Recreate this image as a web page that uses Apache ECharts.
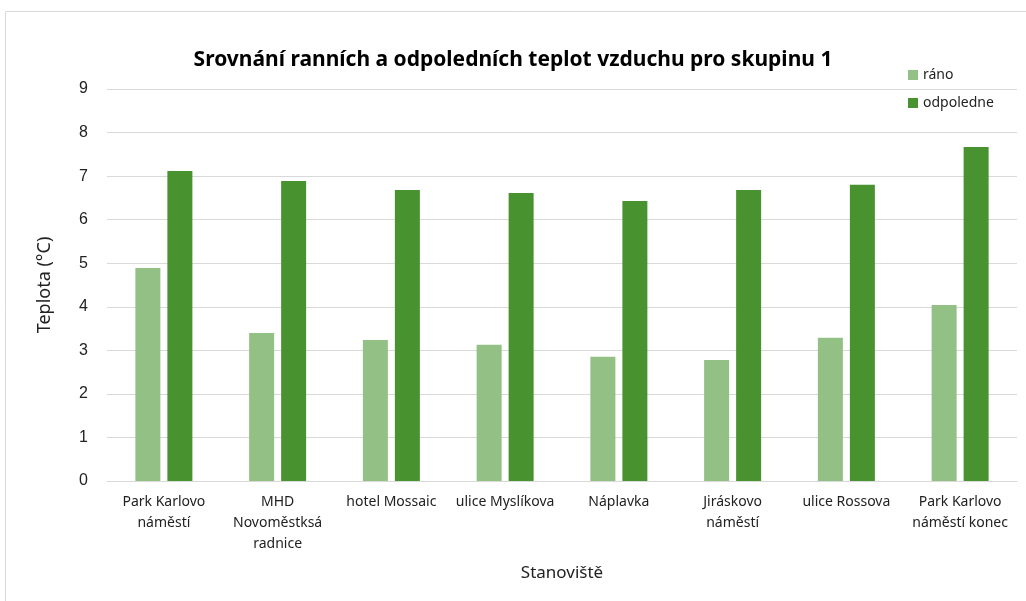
<!DOCTYPE html>
<html>
<head>
<meta charset="utf-8">
<script src="https://cdn.jsdelivr.net/npm/echarts@6/dist/echarts.min.js"></script>
<style>
  html, body { margin: 0; padding: 0; background: #fff; }
  #chart { width: 1026px; height: 601px; }
</style>
</head>
<body>
<div id="chart"></div>
<script>
// stanoviště (kategorie osy x)
const stations = [
    'Park Karlovo\nnáměstí',
    'MHD\nNovoměstksá\nradnice',
    'hotel Mossaic',
    'ulice Myslíkova',
    'Náplavka',
    'Jiráskovo\nnáměstí',
    'ulice Rossova',
    'Park Karlovo\nnáměstí konec'
]
// teploty ráno a odpoledne (°C)
const rano = [4.89, 3.40, 3.24, 3.13, 2.85, 2.78, 3.29, 4.04]
const odpoledne = [7.12, 6.89, 6.68, 6.61, 6.43, 6.68, 6.80, 7.67]

let chartDom = document.getElementById('chart');
let myChart = echarts.init(chartDom);
let option;

option = {
    animation: false,
    backgroundColor: '#fff',
    title: {
        text: 'Srovnání ranních a odpoledních teplot vzduchu pro skupinu 1',
        left: 'center',
        top: 45,
        textStyle: {
            fontFamily: 'Noto Sans',
            fontSize: 21,
            fontWeight: 'bold',
            color: '#000'
        }
    },
    legend: {
        orient: 'vertical',
        left: 903,
        top: 63,
        icon: 'rect',
        itemWidth: 10,
        itemHeight: 10,
        itemGap: 14,
        textStyle: { fontFamily: 'Noto Sans', fontSize: 14, color: '#222' },
        data: ['ráno', 'odpoledne']
    },
    graphic: [{
        type: 'rect',
        shape: { x: 5.5, y: 11.5, width: 1040, height: 620 },
        style: { fill: null, stroke: '#d9d9d9', lineWidth: 1 },
        silent: true
    }],
    grid: {
        left: 107,
        right: 9,
        top: 89,
        bottom: 120
    },
    xAxis: {
        type: 'category',
        data: stations,
        name: 'Stanoviště',
        nameLocation: 'middle',
        nameGap: 84,
        nameTextStyle: { fontFamily: 'Noto Sans', fontSize: 17, color: '#222' },
        axisLine: { lineStyle: { color: '#d9d9d9' } },
        axisTick: { show: false },
        axisLabel: {
            interval: 0,
            margin: 11,
            lineHeight: 21,
            fontFamily: 'Noto Sans',
            fontSize: 14,
            color: '#222'
        }
    },
    yAxis: {
        type: 'value',
        min: 0,
        max: 9,
        interval: 1,
        name: 'Teplota (°C)',
        nameLocation: 'middle',
        nameGap: 53,
        nameTextStyle: { fontFamily: 'Noto Sans', fontSize: 18, color: '#222' },
        axisLabel: {
            margin: 19,
            fontFamily: 'Liberation Sans',
            fontSize: 16,
            color: '#222'
        },
        splitLine: { lineStyle: { color: '#d9d9d9' } }
    },
    series: [
        {
            name: 'ráno',
            type: 'bar',
            data: rano,
            barWidth: 25,
            barGap: '28%',
            itemStyle: { color: '#93c185' }
        },
        {
            name: 'odpoledne',
            type: 'bar',
            data: odpoledne,
            barWidth: 25,
            itemStyle: { color: '#48932f' }
        }
    ]
};

option && myChart.setOption(option);
</script>
</body>
</html>
